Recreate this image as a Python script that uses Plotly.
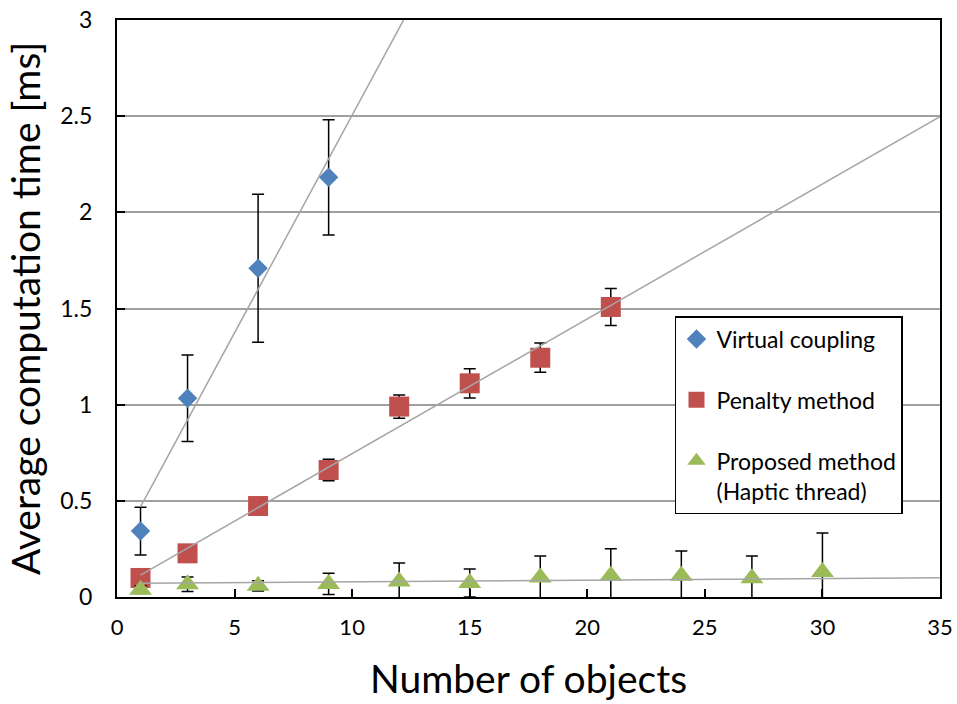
import numpy as np
import plotly.graph_objects as go

# Measured computation times [ms] versus the number of objects
vc_x = [1, 3, 6, 9]
vc_y = [0.343, 1.033, 1.709, 2.182]
vc_err = [0.124, 0.225, 0.385, 0.300]

pen_x = [1, 3, 6, 9, 12, 15, 18, 21]
pen_y = [0.099, 0.227, 0.473, 0.660, 0.990, 1.111, 1.244, 1.508]
pen_err = [0.015, 0.015, 0.025, 0.056, 0.060, 0.076, 0.076, 0.096]

prop_x = [1, 3, 6, 9, 12, 15, 18, 21, 24, 27, 30]
prop_y = [0.038, 0.066, 0.058, 0.068, 0.080, 0.073, 0.101, 0.110, 0.110, 0.098, 0.130]
prop_err = [0.020, 0.038, 0.027, 0.055, 0.097, 0.073, 0.112, 0.141, 0.129, 0.115, 0.203]

# Linear trend lines (slope, intercept), drawn from x = 1 to x = 35
trend_vc = (0.2263, 0.242)
trend_pen = (0.0701, 0.044)
trend_prop = (0.00086, 0.070)
trend_x = [1, 35]

x_ticks = [0, 5, 10, 15, 20, 25, 30, 35]
y_ticks = [0, 0.5, 1, 1.5, 2, 2.5, 3]
y_tick_text = ["0", "0.5", "1", "1.5", "2", "2.5", "3"]

FONT = "Lato"
BLUE = "#4F81BD"
RED = "#C0504D"
GREEN = "#9BBB59"
TREND = "#A5A5A5"

fig = go.Figure()


def err(vals):
    return dict(type="data", array=vals, visible=True, color="black",
                thickness=1.5, width=6)


fig.add_trace(go.Scatter(
    x=vc_x, y=vc_y, mode="markers", name="Virtual coupling",
    legendgroup="a", marker=dict(symbol="diamond", size=15, color=BLUE),
    error_y=err(vc_err)))
fig.add_trace(go.Scatter(
    x=pen_x, y=pen_y, mode="markers", name="Penalty method",
    legendgroup="b", marker=dict(symbol="square", size=20, color=RED),
    error_y=err(pen_err)))
fig.add_trace(go.Scatter(
    x=prop_x, y=prop_y, mode="markers",
    name="Proposed method<br>(Haptic thread)",
    legendgroup="c", marker=dict(symbol="triangle-up", size=20, color=GREEN),
    error_y=err(prop_err)))

for slope, icpt in (trend_vc, trend_pen, trend_prop):
    tx = np.array(trend_x, dtype=float)
    fig.add_trace(go.Scatter(
        x=tx, y=slope * tx + icpt, mode="lines", showlegend=False,
        hoverinfo="skip", line=dict(color=TREND, width=1.5)))

fig.update_layout(
    width=957, height=704,
    margin=dict(l=117, r=17, t=20, b=107),
    paper_bgcolor="white", plot_bgcolor="white",
    font=dict(family=FONT, color="black"),
    showlegend=True,
    legend=dict(
        x=0.678, y=0.487, xanchor="left", yanchor="top",
        bgcolor="white", bordercolor="black", borderwidth=1.5,
        font=dict(family=FONT, size=23, color="black"),
        traceorder="grouped", tracegroupgap=28, valign="top",
        itemsizing="trace", itemwidth=30),
)
fig.update_xaxes(
    range=[0, 35], tickvals=x_ticks, ticktext=[str(v) for v in x_ticks],
    automargin=False,
    showline=True, mirror=True, linecolor="black", linewidth=2,
    ticks="inside", ticklen=8, tickcolor="black", tickwidth=1.5,
    ticklabelstandoff=10,
    showgrid=False, zeroline=False,
    tickfont=dict(family=FONT, size=22, color="black"),
    title=dict(text="Number of objects", font=dict(family=FONT, size=39),
               standoff=26))
fig.update_yaxes(
    range=[0, 3], tickvals=y_ticks, ticktext=y_tick_text,
    automargin=False,
    showline=True, mirror=True, linecolor="black", linewidth=2,
    ticks="inside", ticklen=8, tickcolor="black", tickwidth=1.5,
    ticklabelstandoff=18,
    showgrid=True, gridcolor="#A0A0A0", gridwidth=1.5, zeroline=False,
    tickfont=dict(family=FONT, size=23, color="black"),
    title=dict(text="Average computation time [ms]",
               font=dict(family=FONT, size=39), standoff=8))

fig.write_html("out.html")
